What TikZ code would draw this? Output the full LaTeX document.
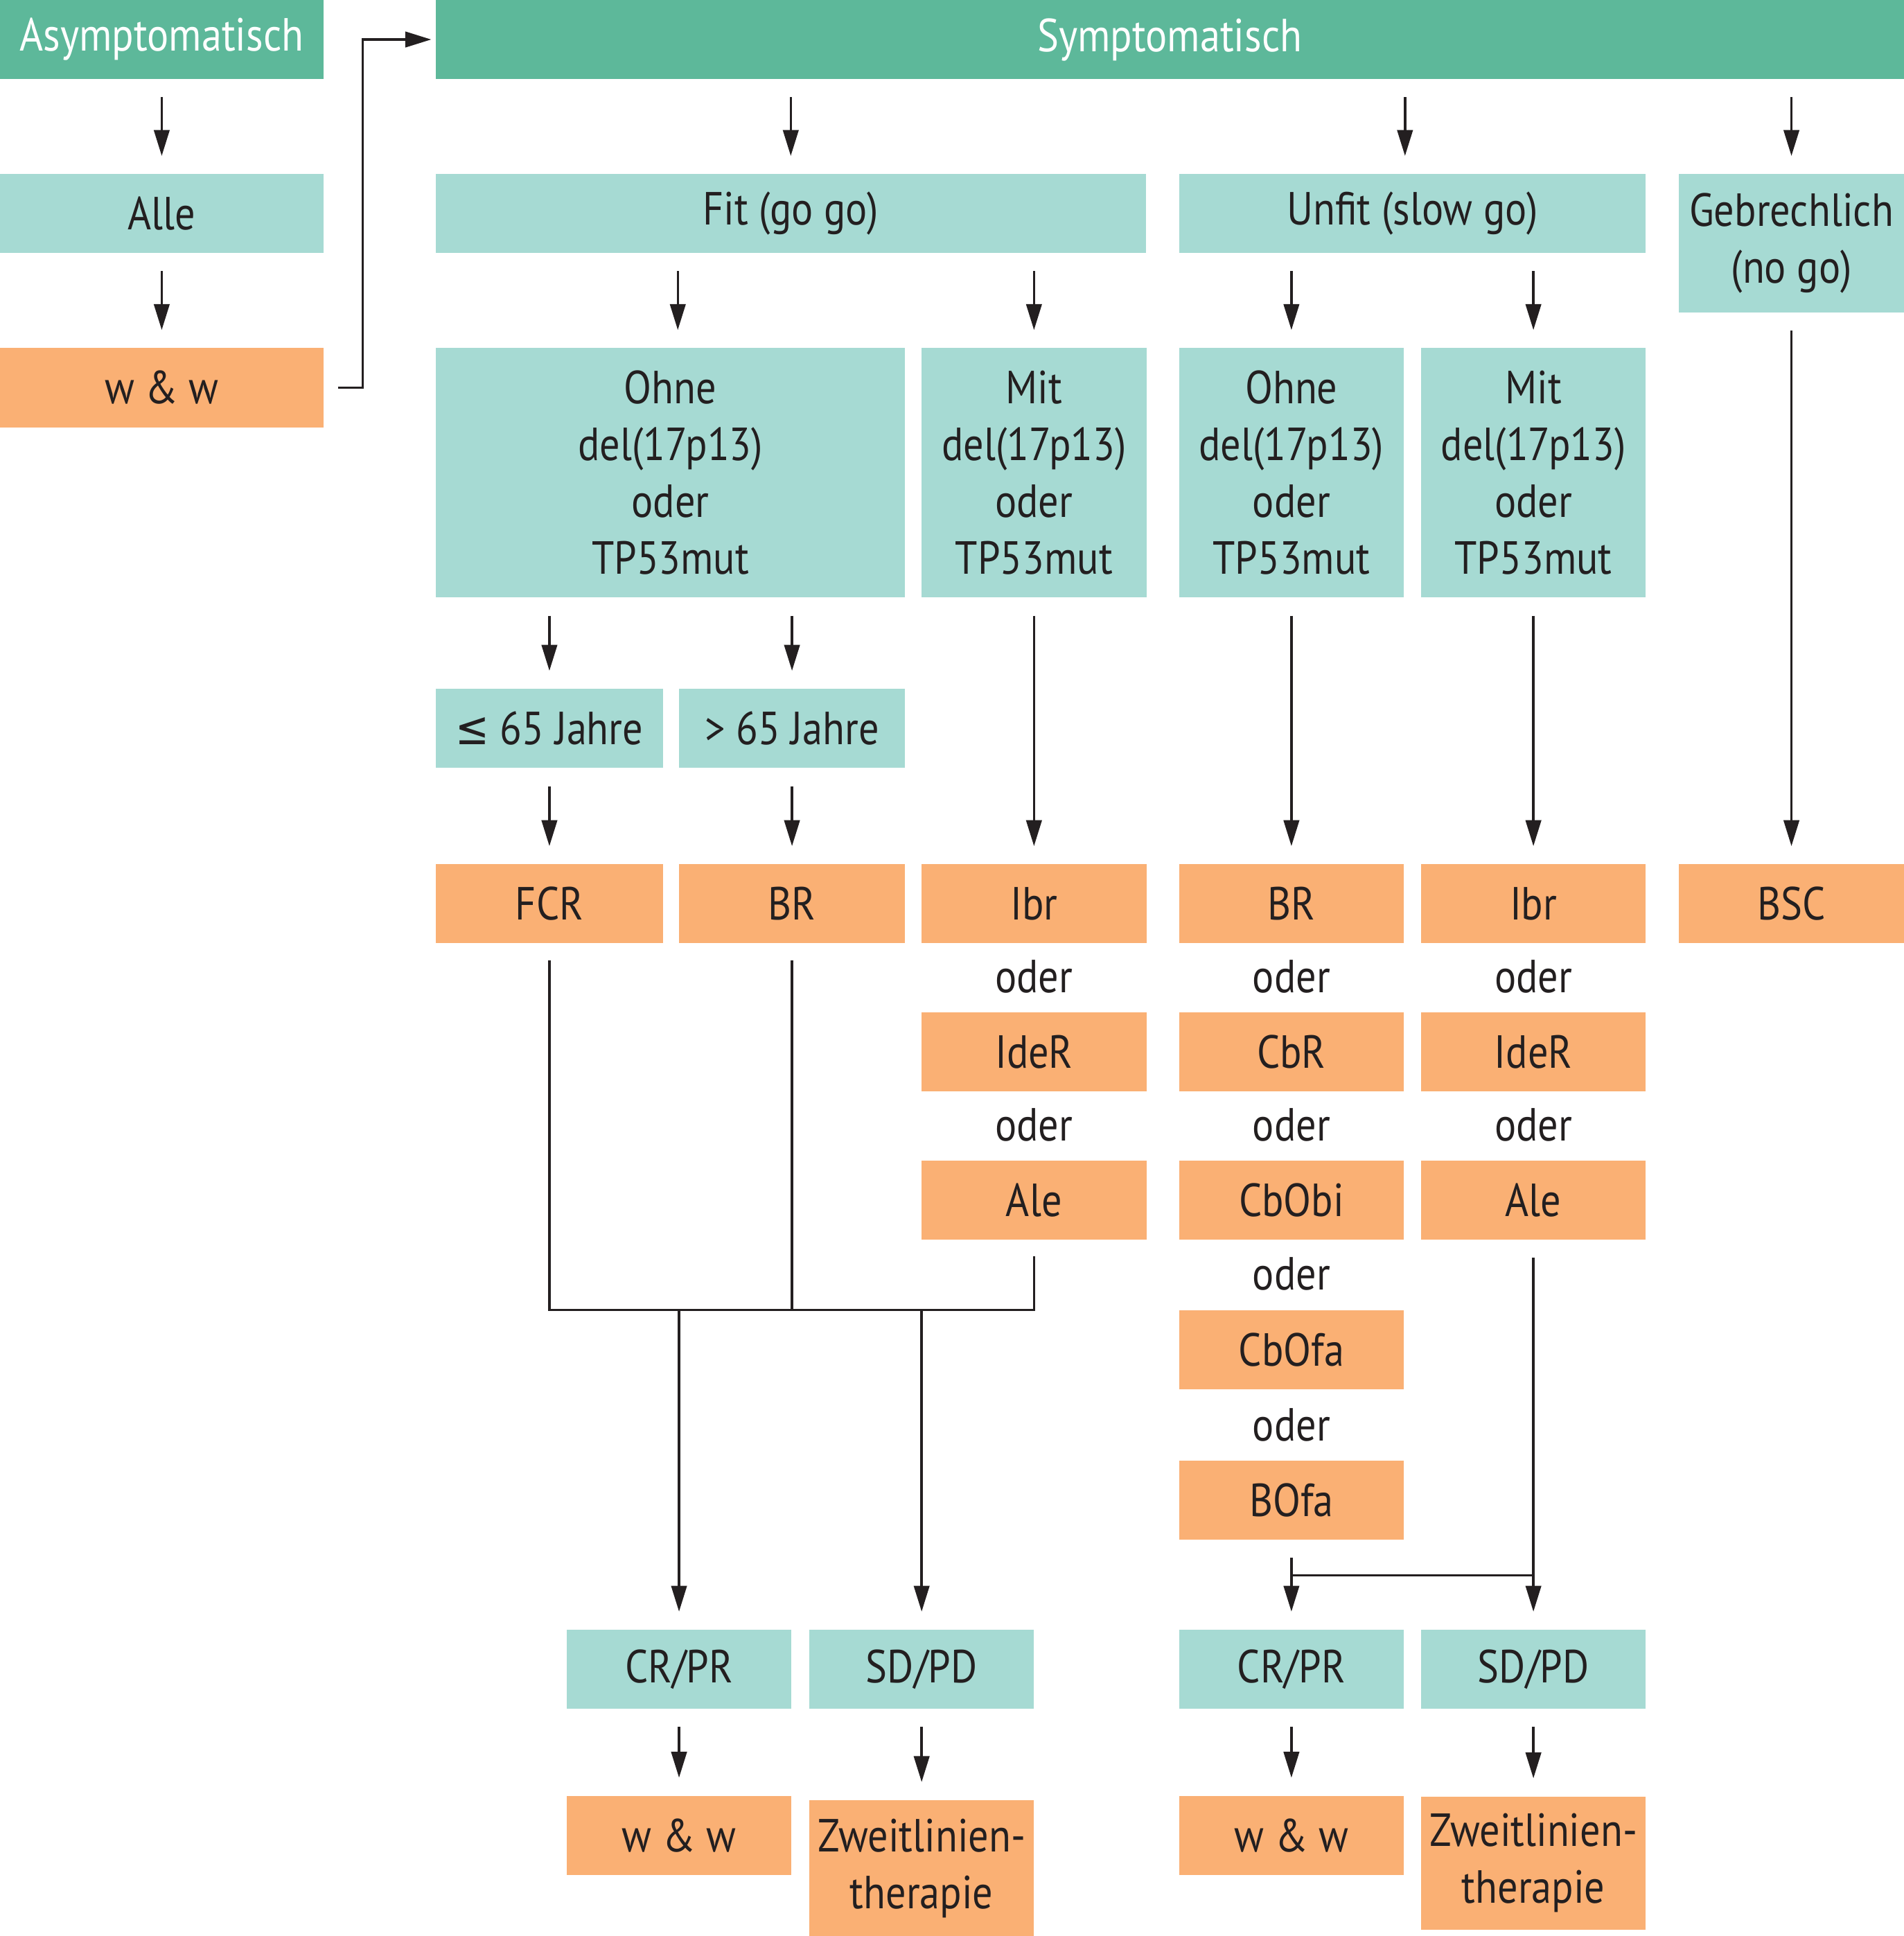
\documentclass[tikz,border=0pt]{standalone}
\usepackage{fontspec}
\setmainfont[FakeStretch=0.87]{PT Sans}
\newfontfamily\symfont[FakeStretch=0.87]{DejaVu Sans}
\usetikzlibrary{arrows.meta}
\definecolor{dgreen}{HTML}{5DB89A}
\definecolor{lteal}{HTML}{A6DAD3}
\definecolor{lorange}{HTML}{FAB074}
\definecolor{ink}{HTML}{231F20}
\tikzset{>={Stealth[inset=0pt,length=2.1mm,width=1.25mm]}}
\tikzset{
  box/.style={rectangle,inner sep=0pt,minimum height=6.4mm,text=ink,align=center,
    font=\fontsize{10.7}{13.1}\selectfont},
  head/.style={box,fill=dgreen,text=white},
  crit/.style={box,fill=lteal},
  ther/.style={box,fill=lorange},
  narrow/.style={minimum width=18.2mm},
  oder/.style={text=ink,font=\fontsize{10.7}{13.1}\selectfont},
  line/.style={draw=ink,line width=0.55pt},
  arr/.style={line,->,shorten <=1.4mm,shorten >=1.4mm},
  conn/.style={line,shorten <=1.3mm,shorten >=1.3mm},
}

\begin{document}
\begin{tikzpicture}
  \useasboundingbox (0,0) rectangle (15.42,-15.68);
  % header
  \node[head,minimum width=26.2mm] (asym) at (1.31,-0.32) {Asymptomatisch};
  \node[head,minimum width=118.9mm] (sym) at (9.475,-0.32) {Symptomatisch};
  % fitness
  \node[crit,minimum width=26.2mm] (alle) at (1.31,-1.73) {Alle};
  \node[ther,minimum width=26.2mm] (ww) at (1.31,-3.14) {w \& w};
  \node[crit,minimum width=57.5mm] (fit) at (6.405,-1.73) {Fit (go go)};
  \node[crit,minimum width=37.8mm] (unfit) at (11.44,-1.73) {Unfit (slow go)};
  \node[crit,narrow,minimum height=11.2mm] (frail) at (14.51,-1.97) {Gebrechlich\\(no go)};
  % genetics
  \node[crit,minimum width=38mm,minimum height=20.2mm] (ohneA) at (5.43,-3.83) {Ohne\\del(17p13)\\oder\\TP53mut};
  \node[crit,narrow,minimum height=20.2mm] (mitA) at (8.375,-3.83) {Mit\\del(17p13)\\oder\\TP53mut};
  \node[crit,narrow,minimum height=20.2mm] (ohneB) at (10.46,-3.83) {Ohne\\del(17p13)\\oder\\TP53mut};
  \node[crit,narrow,minimum height=20.2mm] (mitB) at (12.42,-3.83) {Mit\\del(17p13)\\oder\\TP53mut};
  % age
  \node[crit,minimum width=18.4mm] (young) at (4.45,-5.90) {{\symfont ≤} 65 Jahre};
  \node[crit,minimum width=18.3mm] (old) at (6.415,-5.90) {> 65 Jahre};
  % therapy
  \node[ther,minimum width=18.4mm] (fcr) at (4.45,-7.32) {FCR};
  \node[ther,minimum width=18.3mm] (brA) at (6.415,-7.32) {BR};
  \node[ther,narrow] (ibrA) at (8.375,-7.32) {Ibr};
  \node[ther,narrow] (brB) at (10.46,-7.32) {BR};
  \node[ther,narrow] (ibrB) at (12.42,-7.32) {Ibr};
  \node[ther,narrow] (bsc) at (14.51,-7.32) {BSC};
  \node[oder] (oA1) at (8.375,-7.91) {oder};
  \node[oder] (oB1) at (10.46,-7.91) {oder};
  \node[oder] (oC1) at (12.42,-7.91) {oder};
  \node[ther,narrow] (ideA) at (8.375,-8.52) {IdeR};
  \node[ther,narrow] (cbr) at (10.46,-8.52) {CbR};
  \node[ther,narrow] (ideB) at (12.42,-8.52) {IdeR};
  \node[oder] (oA2) at (8.375,-9.11) {oder};
  \node[oder] (oB2) at (10.46,-9.11) {oder};
  \node[oder] (oC2) at (12.42,-9.11) {oder};
  \node[ther,narrow] (aleA) at (8.375,-9.72) {Ale};
  \node[ther,narrow] (cbobi) at (10.46,-9.72) {CbObi};
  \node[ther,narrow] (aleB) at (12.42,-9.72) {Ale};
  \node[oder] (oB3) at (10.46,-10.32) {oder};
  \node[ther,narrow] (cbofa) at (10.46,-10.93) {CbOfa};
  \node[oder] (oB4) at (10.46,-11.54) {oder};
  \node[ther,narrow] (bofa) at (10.46,-12.15) {BOfa};
  % response
  \node[crit,narrow] (crA) at (5.50,-13.52) {CR/PR};
  \node[crit,narrow] (sdA) at (7.465,-13.52) {SD/PD};
  \node[crit,narrow] (crB) at (10.46,-13.52) {CR/PR};
  \node[crit,narrow] (sdB) at (12.42,-13.52) {SD/PD};
  \node[ther,narrow] (wwA) at (5.50,-14.865) {w \& w};
  \node[ther,narrow,minimum height=11mm] (zwA) at (7.465,-15.13) {Zweitlinien-\\therapie};
  \node[ther,narrow] (wwB) at (10.46,-14.865) {w \& w};
  \node[ther,narrow,minimum height=10.8mm] (zwB) at (12.42,-15.09) {Zweitlinien-\\therapie};

  % connectors
  \draw[arr] (asym) -- (alle);
  \draw[arr] (alle) -- (ww);
  \draw[line,->,shorten >=0.3mm] (ww.east) ++(1.1mm,0) -- ++(2mm,0) |- (sym.west);
  \draw[arr] (sym.south -| fit) -- (fit);
  \draw[arr] ([xshift=-0.6mm]sym.south -| unfit) -- ([xshift=-0.6mm]unfit.north);
  \draw[arr] (sym.south -| frail) -- (frail);
  \draw[arr] ([xshift=0.6mm]fit.south -| ohneA) -- ([xshift=0.6mm]ohneA.north);
  \draw[arr] (fit.south -| mitA) -- (mitA);
  \draw[arr] (unfit.south -| ohneB) -- (ohneB);
  \draw[arr] (unfit.south -| mitB) -- (mitB);
  \draw[arr] (ohneA.south -| young) -- (young);
  \draw[arr] (ohneA.south -| old) -- (old);
  \draw[arr] (young) -- (fcr);
  \draw[arr] (old) -- (brA);
  \draw[arr] (mitA) -- (ibrA);
  \draw[arr] (ohneB) -- (brB);
  \draw[arr] (mitB) -- (ibrB);
  \draw[arr] (frail) -- (bsc);
  \coordinate (mergeA) at (0,-10.61);
  \draw[conn] (fcr) -- (fcr |- mergeA) -- (aleA |- mergeA) -- (aleA);
  \draw[conn,shorten >=0pt] (brA) -- (brA |- mergeA);
  \draw[arr,shorten <=0pt] (crA |- mergeA) -- (crA);
  \draw[arr,shorten <=0pt] (sdA |- mergeA) -- (sdA);
  \coordinate (mergeB) at (0,-12.76);
  \draw[arr] (bofa) -- (crB);
  \draw[arr] (aleB) -- (sdB);
  \draw[line] (crB |- mergeB) -- (sdB |- mergeB);
  \draw[arr] (crA) -- (wwA);
  \draw[arr] (sdA) -- (zwA);
  \draw[arr] (crB) -- (wwB);
  \draw[arr] (sdB) -- (zwB);
\end{tikzpicture}
\end{document}
